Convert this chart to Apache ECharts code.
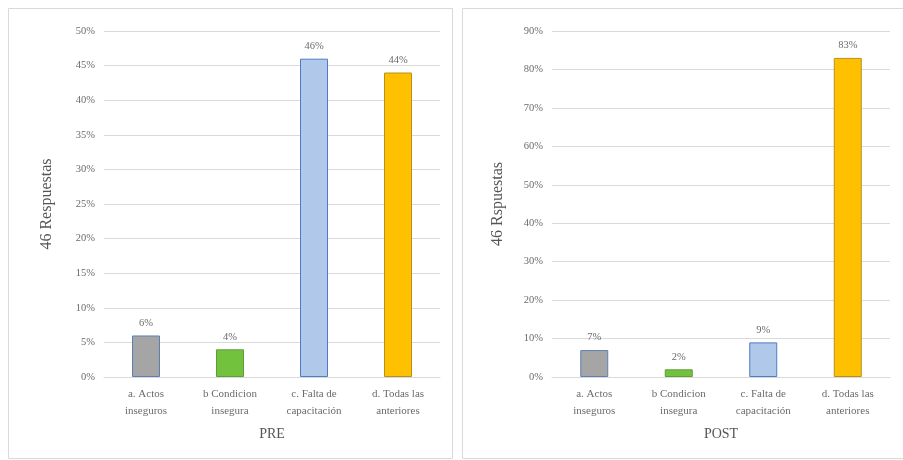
<!DOCTYPE html>
<html><head><meta charset="utf-8">
<script src="https://cdn.jsdelivr.net/npm/echarts@6/dist/echarts.min.js"></script>
<style>html,body{margin:0;padding:0;background:#fff}#c{width:903px;height:460px}</style>
</head><body><div id="c"></div>
<script>
const categories = ['a. Actos\ninseguros', 'b Condicion\ninsegura', 'c. Falta de\ncapacitación', 'd. Todas las\nanteriores'];
const preValues = [6, 4, 46, 44];
const postValues = [7, 2, 9, 83];
const barColors = ['#A5A5A5', '#72C23E', '#B0C8EA', '#FFC000'];
const barBorders = ['#5B7FB5', '#5E9E38', '#4F7CC4', '#B89020'];
const preTitle = 'PRE', postTitle = 'POST';
const preAxisName = '46 Respuestas', postAxisName = '46 Rspuestas';

const font = 'Liberation Serif';
const grey = '#6b6b6b';
function mkData(vals){
  return vals.map((v,i)=>({value:v,itemStyle:{color:barColors[i],borderColor:barBorders[i],borderWidth:1}}));
}
function xAxis(idx,name){
  return {type:'category',gridIndex:idx,data:categories,name:name,nameLocation:'middle',nameGap:50,
    nameTextStyle:{fontFamily:font,fontSize:14,color:'#555'},
    axisTick:{show:false},axisLine:{lineStyle:{color:'#d9d9d9'}},
    axisLabel:{fontFamily:font,fontSize:11,color:grey,lineHeight:17,interval:0,margin:9}};
}
function yAxis(idx,max,interval,name,gap){
  return {type:'value',gridIndex:idx,min:0,max:max,interval:interval,name:name,nameLocation:'middle',nameGap:gap,
    nameTextStyle:{fontFamily:font,fontSize:16,color:'#555'},
    axisLine:{show:false},axisTick:{show:false},
    splitLine:{lineStyle:{color:'#d9d9d9'}},
    axisLabel:{fontFamily:font,fontSize:10.5,color:grey,formatter:'{value}%',margin:9}};
}
const chart = echarts.init(document.getElementById('c'),null,{renderer:'canvas'});
chart.setOption({
  animation:false,
  graphic:[
    {type:'rect',shape:{x:8.5,y:8.5,width:444,height:450},style:{fill:'none',stroke:'#d9d9d9',lineWidth:1}},
    {type:'rect',shape:{x:462.5,y:8.5,width:450,height:450},style:{fill:'none',stroke:'#d9d9d9',lineWidth:1}}
  ],
  grid:[
    {left:104,right:463,top:31,bottom:83},
    {left:552,right:13,top:31,bottom:83}
  ],
  xAxis:[xAxis(0,preTitle),xAxis(1,postTitle)],
  yAxis:[yAxis(0,50,5,preAxisName,49),yAxis(1,90,10,postAxisName,46)],
  series:[
    {type:'bar',xAxisIndex:0,yAxisIndex:0,data:mkData(preValues),barWidth:28,
      label:{show:true,position:'top',formatter:'{c}%',fontFamily:font,fontSize:10.5,color:grey,distance:7}},
    {type:'bar',xAxisIndex:1,yAxisIndex:1,data:mkData(postValues),barWidth:28,
      label:{show:true,position:'top',formatter:'{c}%',fontFamily:font,fontSize:10.5,color:grey,distance:7}}
  ]
});
</script></body></html>
